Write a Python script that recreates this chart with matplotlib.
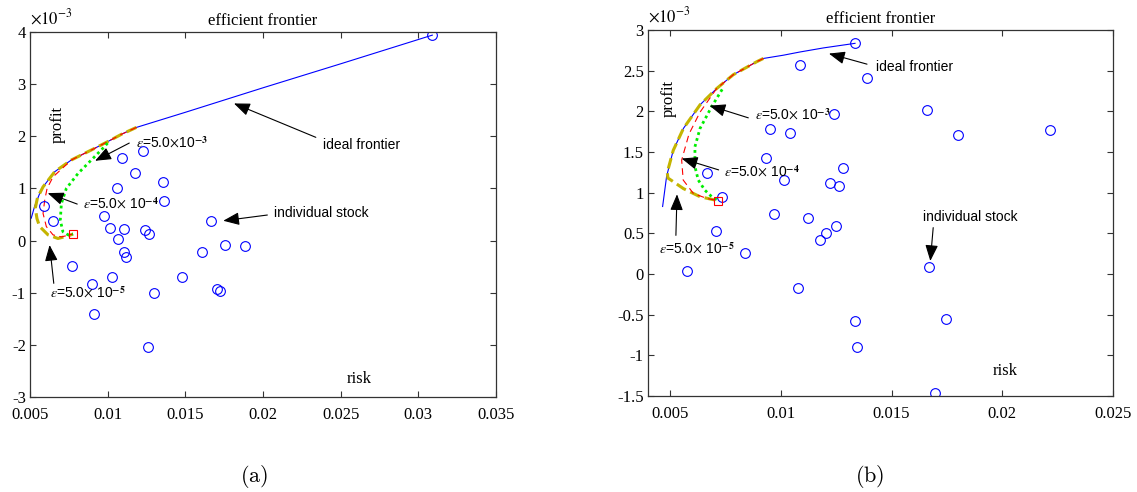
import matplotlib
matplotlib.use("Agg")
import matplotlib.pyplot as plt
from matplotlib.ticker import FuncFormatter

plt.rcParams['axes.unicode_minus'] = False
plt.rcParams['mathtext.fontset'] = 'stix'

# panel (a) -- profit values are in units of 1e-3
risk_a = [0.0309, 0.01229, 0.01091, 0.01179, 0.01354, 0.01059, 0.01363, 0.00592, 0.00648, 0.00975,
          0.01663, 0.01012, 0.01105, 0.01239, 0.01266, 0.01068, 0.01105, 0.01119, 0.01608, 0.01755,
          0.01885, 0.00772, 0.01479, 0.01026, 0.00902, 0.01299, 0.01705, 0.01723, 0.00911, 0.01257]
profit_a = [3.94, 1.71, 1.575, 1.30, 1.13, 1.015, 0.76, 0.671, 0.378, 0.467,
            0.378, 0.238, 0.213, 0.20, 0.13, 0.022, -0.21, -0.31, -0.22, -0.093,
            -0.106, -0.49, -0.70, -0.69, -0.83, -1.01, -0.93, -0.97, -1.40, -2.05]

ideal_a_x = [0.00508, 0.0053, 0.00562, 0.00584, 0.00659, 0.00766, 0.00917, 0.01002, 0.0109,
             0.01185, 0.015, 0.02, 0.025, 0.0309]
ideal_a_y = [0.43, 0.66, 0.90, 1.03, 1.32, 1.545, 1.77, 1.9, 2.04, 2.17, 2.46, 2.93, 3.39, 3.94]

eps5_a_x = [0.01185, 0.0109, 0.01002, 0.00917, 0.00766, 0.00659, 0.00584, 0.00548, 0.00534,
            0.00545, 0.00562, 0.00616, 0.0068, 0.00745, 0.00777]
eps5_a_y = [2.17, 2.04, 1.9, 1.77, 1.545, 1.32, 1.03, 0.82, 0.62, 0.42, 0.27, 0.11, 0.04, 0.09, 0.126]

eps4_a_x = [0.01185, 0.0109, 0.01002, 0.00917, 0.00766, 0.00648, 0.0061, 0.00595, 0.00584,
            0.00605, 0.00648, 0.00702, 0.00777]
eps4_a_y = [2.17, 2.04, 1.9, 1.77, 1.545, 1.22, 1.0, 0.78, 0.52, 0.27, 0.11, 0.07, 0.126]

eps3_a_x = [0.0100, 0.00966, 0.00895, 0.0081, 0.00734, 0.00702, 0.00695, 0.00712, 0.00745, 0.00777]
eps3_a_y = [1.87, 1.76, 1.545, 1.29, 1.0, 0.71, 0.39, 0.17, 0.11, 0.126]

start_a = (0.00777, 0.126)

# panel (b)
risk_b = [0.01335, 0.01088, 0.01389, 0.01658, 0.01242, 0.00949, 0.01041, 0.01802, 0.02216, 0.00934,
          0.01279, 0.00666, 0.01013, 0.01224, 0.01261, 0.00735, 0.00967, 0.01124, 0.01248, 0.01202,
          0.01176, 0.00707, 0.0084, 0.00575, 0.01667, 0.01078, 0.01335, 0.01745, 0.01345, 0.01694]
profit_b = [2.836, 2.566, 2.414, 2.012, 1.963, 1.783, 1.738, 1.705, 1.775, 1.422,
            1.299, 1.246, 1.16, 1.115, 1.078, 0.951, 0.738, 0.693, 0.586, 0.508,
            0.418, 0.525, 0.262, 0.041, 0.086, -0.172, -0.574, -0.549, -0.893, -1.459]

ideal_b_x = [0.00466, 0.00484, 0.00514, 0.0056, 0.00635, 0.0071, 0.00785, 0.00891, 0.00921,
             0.01011, 0.01087, 0.01193, 0.01335]
ideal_b_y = [0.83, 1.20, 1.52, 1.79, 2.08, 2.28, 2.45, 2.61, 2.65, 2.69, 2.73, 2.78, 2.836]

eps5_b_x = [0.00921, 0.00891, 0.00785, 0.0071, 0.00635, 0.0056, 0.00514, 0.00487, 0.0049,
            0.0056, 0.00635, 0.00718]
eps5_b_y = [2.65, 2.61, 2.45, 2.28, 2.08, 1.79, 1.52, 1.25, 1.18, 1.05, 0.95, 0.90]

eps4_b_x = [0.00921, 0.00891, 0.00785, 0.0071, 0.00635, 0.00585, 0.00552, 0.00559, 0.00605,
            0.00665, 0.00718]
eps4_b_y = [2.65, 2.61, 2.45, 2.28, 1.99, 1.72, 1.40, 1.155, 0.99, 0.93, 0.90]

eps3_b_x = [0.00735, 0.00688, 0.00635, 0.00612, 0.00612, 0.00627, 0.00657, 0.00688, 0.00718]
eps3_b_y = [2.27, 2.06, 1.79, 1.565, 1.32, 1.155, 1.03, 0.95, 0.90]

start_b = (0.00718, 0.90)

SERIF = 'Liberation Serif'
SANS = 'Liberation Sans'
YELLOW = '#c4b400'

fig = plt.figure(figsize=(11.37, 4.92), dpi=100)
ax_a = fig.add_axes([30 / 1137, 95 / 492, 466 / 1137, 365 / 492])
ax_b = fig.add_axes([648 / 1137, 96 / 492, 465 / 1137, 366 / 492])


def draw_panel(ax, risk, profit, ideal, eps5, eps4, eps3, start):
    ax.plot(ideal[0], ideal[1], color='#0000ff', lw=0.8)
    ax.plot(eps5[0], eps5[1], color=YELLOW, lw=2.2, linestyle=(0, (3.5, 1.6)))
    ax.plot(eps4[0], eps4[1], color='#ff0000', lw=0.8, linestyle=(0, (6, 4)))
    ax.plot(eps3[0], eps3[1], color='#00ee00', lw=2.0, linestyle=(0, (1, 1.2)))
    ax.plot(risk, profit, 'o', mfc='none', mec='#0000ff', ms=7, mew=0.8)
    ax.plot([start[0]], [start[1]], 's', mfc='none', mec='#ff0000', ms=6, mew=0.8)


def style_axes(ax, xlim, ylim, xticks, yticks):
    ax.set_xlim(*xlim)
    ax.set_ylim(*ylim)
    ax.set_xticks(xticks)
    ax.set_yticks(yticks)
    ax.xaxis.set_major_formatter(FuncFormatter(lambda v, p: '%g' % round(v, 4)))
    ax.yaxis.set_major_formatter(FuncFormatter(lambda v, p: '%g' % v))
    ax.tick_params(direction='in', top=True, right=True, length=4, width=0.8,
                   color='#333333', labelsize=12)
    ax.tick_params(axis='x', pad=7)
    ax.tick_params(axis='y', pad=3)
    for lab in ax.get_xticklabels() + ax.get_yticklabels():
        lab.set_family(SERIF)
    for sp in ax.spines.values():
        sp.set_color('#333333')
        sp.set_linewidth(0.9)
    ax.set_title('efficient frontier', family=SERIF, fontsize=12, pad=5)
    ax.text(0.0, 1.012, r'$\times10^{-3}$', transform=ax.transAxes, family=SERIF,
            fontsize=12, ha='left', va='bottom')


def arrow(ax, start, tip):
    ax.annotate('', xy=tip, xytext=start,
                arrowprops=dict(arrowstyle='-|>,head_length=0.7,head_width=0.28',
                                color='k', lw=0.8, mutation_scale=14, shrinkA=0, shrinkB=0))


def label(ax, x, y, s):
    ax.text(x, y, s, family=SANS, fontsize=10, ha='left', va='center')


# panel (a)
draw_panel(ax_a, risk_a, profit_a, (ideal_a_x, ideal_a_y), (eps5_a_x, eps5_a_y),
           (eps4_a_x, eps4_a_y), (eps3_a_x, eps3_a_y), start_a)
style_axes(ax_a, (0.005, 0.035), (-3, 4), [0.005, 0.01, 0.015, 0.02, 0.025, 0.03, 0.035],
           [-3, -2, -1, 0, 1, 2, 3, 4])

label(ax_a, 0.02386, 1.83, 'ideal frontier')
arrow(ax_a, (0.0234, 1.98), (0.01813, 2.63))
label(ax_a, 0.0118, 1.87, r'$\epsilon$=5.0$\times$10$^{\mathbf{-3}}$')
arrow(ax_a, (0.01139, 1.87), (0.00919, 1.53))
label(ax_a, 0.00839, 0.71, r'$\epsilon$=5.0$\times$ 10$^{\mathbf{-4}}$')
arrow(ax_a, (0.00804, 0.70), (0.00614, 0.91))
label(ax_a, 0.02068, 0.52, 'individual stock')
arrow(ax_a, (0.02028, 0.49), (0.01744, 0.38))
label(ax_a, 0.00631, -1.01, r'$\epsilon$=5.0$\times$ 10$^{\mathbf{-5}}$')
arrow(ax_a, (0.00653, -0.82), (0.00626, -0.085))

ax_a.text(0.0068, 2.22, 'profit', family=SERIF, fontsize=12, rotation=90, ha='center', va='center')
ax_a.text(0.0262, -2.65, 'risk', family=SERIF, fontsize=12, ha='center', va='center')

# panel (b)
draw_panel(ax_b, risk_b, profit_b, (ideal_b_x, ideal_b_y), (eps5_b_x, eps5_b_y),
           (eps4_b_x, eps4_b_y), (eps3_b_x, eps3_b_y), start_b)
style_axes(ax_b, (0.004, 0.025), (-1.5, 3), [0.005, 0.01, 0.015, 0.02, 0.025],
           [-1.5, -1, -0.5, 0, 0.5, 1, 1.5, 2, 2.5, 3])

label(ax_b, 0.0143, 2.545, 'ideal frontier')
arrow(ax_b, (0.01389, 2.58), (0.01217, 2.71))
label(ax_b, 0.00882, 1.96, r'$\epsilon$=5.0$\times$ 10$^{\mathbf{-3}}$')
arrow(ax_b, (0.00853, 1.92), (0.00678, 2.07))
label(ax_b, 0.00743, 1.26, r'$\epsilon$=5.0$\times$ 10$^{\mathbf{-4}}$')
arrow(ax_b, (0.00719, 1.28), (0.00552, 1.42))
label(ax_b, 0.00449, 0.31, r'$\epsilon$=5.0$\times$ 10$^{\mathbf{-5}}$')
arrow(ax_b, (0.00526, 0.475), (0.00531, 0.98))
label(ax_b, 0.01642, 0.70, 'individual stock')
arrow(ax_b, (0.01688, 0.57), (0.01675, 0.16))

ax_b.text(0.00495, 2.16, 'profit', family=SERIF, fontsize=12, rotation=90, ha='center', va='center')
ax_b.text(0.02015, -1.19, 'risk', family=SERIF, fontsize=12, ha='center', va='center')

# captions
fig.text(254 / 1137, 1 - 477 / 492, r'$\mathrm{(a)}$', fontsize=16, math_fontfamily='cm',
         ha='center', va='center')
fig.text(870 / 1137, 1 - 477 / 492, r'$\mathrm{(b)}$', fontsize=16, math_fontfamily='cm',
         ha='center', va='center')

fig.savefig('out.png', dpi=100)
plt.close(fig)
